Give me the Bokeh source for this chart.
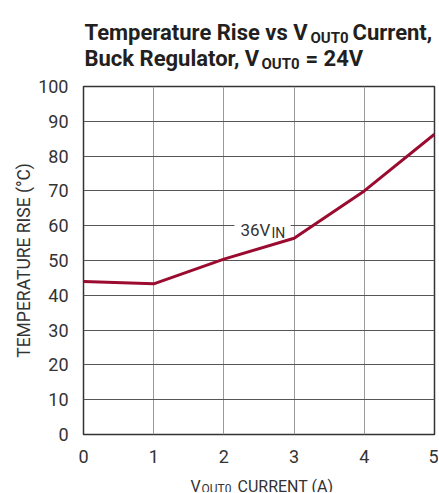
from bokeh.plotting import figure
from bokeh.layouts import column
from bokeh.models import Range1d, FixedTicker
from bokeh.core.properties import value
from bokeh.embed import file_html
from bokeh.resources import INLINE

current_a = [0, 1, 2, 3, 4, 5]
temp_rise = [44.0, 43.3, 50.4, 56.4, 70.0, 86.3]
x_ticks = [0, 1, 2, 3, 4, 5]
y_ticks = [0, 10, 20, 30, 40, 50, 60, 70, 80, 90, 100]
series_label = ["36V", "IN"]
title_parts_1 = ["Temperature Rise vs V", "OUT0", "Current,"]
title_parts_2 = ["Buck Regulator,  V", "OUT0", "= 24V"]
xlabel_parts = ["V", "OUT0", "CURRENT (A)"]
ylabel = "TEMPERATURE RISE (°C)"

FONT = "Roboto"
TXT = "#333333"
TC = "#231f20"
WIDTH = 438
BL, BR = 83, 4
TOP_H = 74


def blank(h):
    f = figure(width=WIDTH, height=h, output_backend="svg", toolbar_location=None,
               x_range=Range1d(BL, WIDTH - BR), y_range=Range1d(h, 0),
               x_axis_type=None, y_axis_type=None,
               min_border_left=BL, min_border_right=BR, min_border_top=0, min_border_bottom=0)
    f.outline_line_color = None
    f.background_fill_color = "white"
    f.border_fill_color = "white"
    f.xgrid.visible = False
    f.ygrid.visible = False
    return f


def put(f, x, y, txt, size, style="normal", color=TXT, align="left"):
    f.text(x=[x], y=[y], text=[txt], text_font=value(FONT), text_font_size=size,
           text_font_style=style, text_color=color, text_align=align,
           text_baseline="alphabetic")


# ---- title strip
top = blank(TOP_H)
put(top, 84, 32, title_parts_1[0], "22px", "bold", TC)
put(top, 310, 37, title_parts_1[1], "15px", "bold", TC)
put(top, 352, 32, title_parts_1[2], "22px", "bold", TC)
put(top, 84, 58, title_parts_2[0], "22px", "bold", TC)
put(top, 261, 63, title_parts_2[1], "15px", "bold", TC)
put(top, 305, 58, title_parts_2[2], "22px", "bold", TC)

# ---- main chart
p = figure(width=WIDTH, height=391, output_backend="svg", toolbar_location=None,
           x_range=Range1d(0, 5), y_range=Range1d(0, 100),
           min_border_left=BL, min_border_right=BR, min_border_top=12, min_border_bottom=28)
p.background_fill_color = "white"
p.border_fill_color = "white"
p.outline_line_color = "#333333"
p.outline_line_width = 1.5

p.xaxis.ticker = FixedTicker(ticks=x_ticks)
p.yaxis.ticker = FixedTicker(ticks=y_ticks)
for ax in (p.xaxis[0], p.yaxis[0]):
    ax.axis_line_color = None
    ax.major_tick_line_color = None
    ax.minor_tick_line_color = None
    ax.major_label_text_font = FONT
    ax.major_label_text_font_size = "18px"
    ax.major_label_text_color = TXT
p.xaxis.major_label_standoff = 9
p.yaxis.major_label_standoff = 9
p.yaxis.axis_label = ylabel
p.yaxis.axis_label_text_font = FONT
p.yaxis.axis_label_text_font_size = "17.5px"
p.yaxis.axis_label_text_font_style = "normal"
p.yaxis.axis_label_text_color = TXT
p.yaxis.axis_label_standoff = 1

p.xgrid.grid_line_color = "#9a9a9a"
p.xgrid.grid_line_width = 1
p.ygrid.grid_line_color = "#555555"
p.ygrid.grid_line_width = 1

p.line(current_a, temp_rise, line_color="#9b0b30", line_width=3, line_join="round")

# curve label with white background over the 60 gridline
p.rect(x=[2.55], y=[60], width=0.8, height=4, fill_color="white", line_color=None)
p.text(x=[2.236], y=[58.8], text=[series_label[0]], text_font=value(FONT),
       text_font_size="17px", text_color=TXT, text_baseline="alphabetic")
p.text(x=[2.678], y=[57.9], text=[series_label[1]], text_font=value(FONT),
       text_font_size="14px", text_color=TXT, text_baseline="alphabetic")

# ---- x axis label strip
bot = blank(27)
put(bot, 190, 20.5, xlabel_parts[0], "16px")
put(bot, 201, 23, xlabel_parts[1], "12px")
put(bot, 237, 20.5, xlabel_parts[2], "16px")

layout = column(top, p, bot, spacing=0)
open("out.html", "w").write(file_html(layout, INLINE))
